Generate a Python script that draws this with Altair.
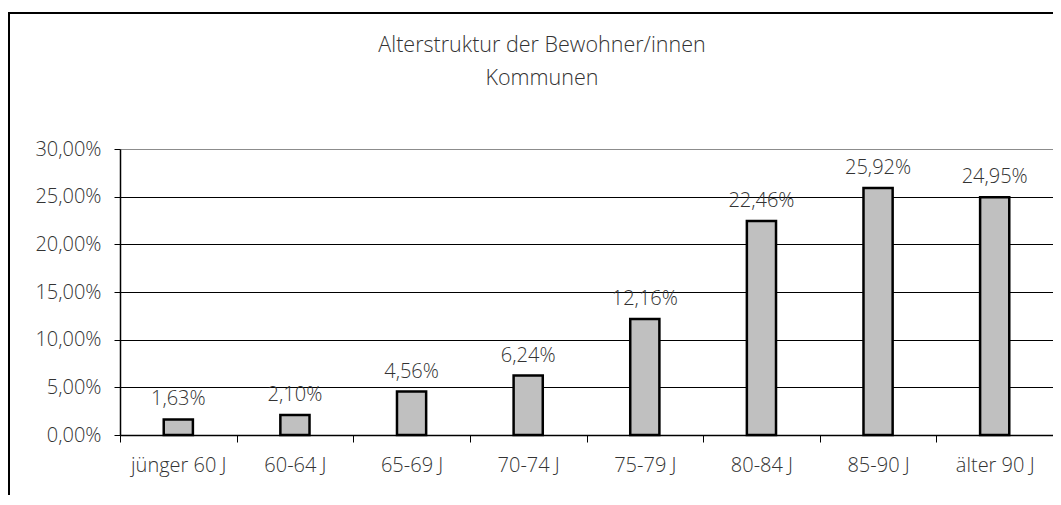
import altair as alt
import pandas as pd

categories = ["jünger 60 J", "60-64 J", "65-69 J", "70-74 J", "75-79 J", "80-84 J", "85-90 J", "älter 90 J"]
values = [1.63, 2.10, 4.56, 6.24, 12.16, 22.46, 25.92, 24.95]
y_ticks = [0, 5, 10, 15, 20, 25, 30]
title_lines = ["Alterstruktur der Bewohner/innen", "Kommunen"]

df = pd.DataFrame({"cat": categories, "v": values})

FONT = "Open Sans"
FS = 20
TXT = "#333333"
W, H = 933, 286

base = alt.Chart(df)

x_enc = alt.X("cat:N", sort=categories, title=None,
              scale=alt.Scale(paddingInner=0, paddingOuter=0),
              axis=alt.Axis(labelAngle=0, tickBand="extent", tickSize=7, tickColor="black",
                            domainColor="black", domainWidth=1.5, labelPadding=13,
                            labelFontSize=FS, labelFont=FONT, labelFontWeight=300,
                            labelColor=TXT, grid=False))
y_enc = alt.Y("v:Q", title=None,
              scale=alt.Scale(domain=[0, 30], nice=False),
              axis=alt.Axis(values=y_ticks, tickSize=6, tickColor="black",
                            domainColor="black", domainWidth=1.5, labelPadding=13,
                            labelFontSize=FS, labelFont=FONT, labelFontWeight=300,
                            labelColor=TXT,
                            labelExpr="replace(format(datum.value, '.2f'), '.', ',') + '%'",
                            grid=True, gridWidth=1,
                            gridColor=alt.condition("datum.value == 30", alt.value("#8c8c8c"), alt.value("black"))))

bars = base.mark_bar(width=alt.RelativeBandSize(0.25), color="#c0c0c0",
                     stroke="black", strokeWidth=2.5).encode(x=x_enc, y=y_enc)

labels = base.transform_calculate(
    lab="replace(format(datum.v, '.2f'), '.', ',') + '%'"
).mark_text(baseline="alphabetic", dy=-14, fontSize=FS, font=FONT, fontWeight=300,
            color=TXT).encode(x=alt.X("cat:N", sort=categories), y="v:Q", text="lab:N")

frame = base.mark_rect(fillOpacity=0, fill="white", stroke="black", strokeWidth=2,
                       clip=False).encode(
    x=alt.value(-111), x2=alt.value(W + 200),
    y=alt.value(-136), y2=alt.value(H + 300))

title = alt.Chart(pd.DataFrame({"t": [0]})).mark_text(
    text=title_lines, lineHeight=33, baseline="alphabetic", align="center",
    fontSize=21.5, font=FONT, fontWeight=300, color=TXT, clip=False
).encode(x=alt.value(422), y=alt.value(-97))

chart = alt.layer(frame, bars, labels, title).properties(
    width=W, height=H,
    autosize=alt.AutoSizeParams(type="none"),
    padding={"left": 112, "top": 141, "right": 0, "bottom": 60},
).configure_view(stroke="#8c8c8c", strokeWidth=2).configure(background="white")

chart.save("out.html", embed_options={"renderer": "svg", "actions": False})
